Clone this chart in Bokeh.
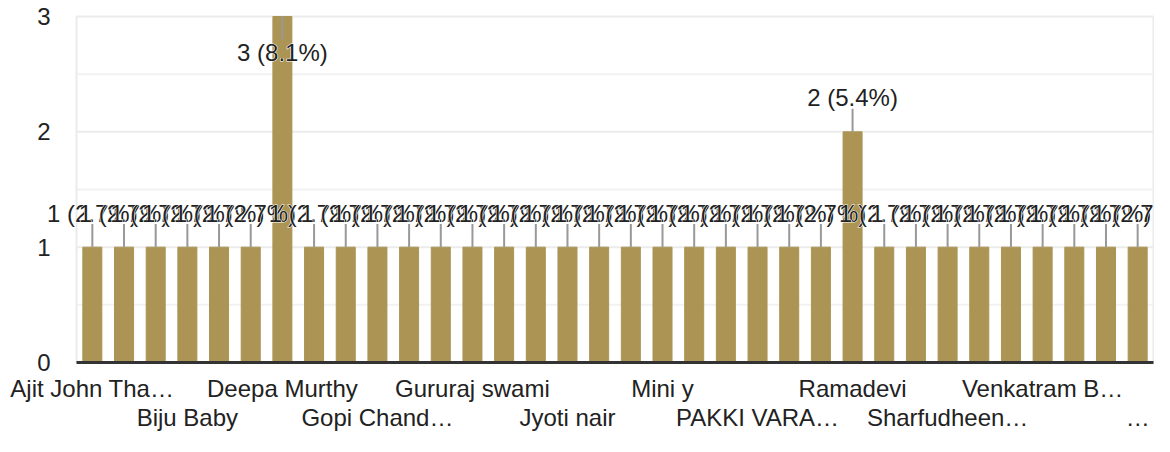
from bokeh.plotting import figure
from bokeh.models import ColumnDataSource, Label, LabelSet, FixedTicker, Range1d
from bokeh.core.properties import value
from bokeh.embed import file_html
from bokeh.resources import INLINE

# ---- data ----
names = [
    "Ajit John Thomas", "Anil Kumar", "Anitha R", "Biju Baby", "Bindu S",
    "Chandran K", "Deepa Murthy", "Divya Menon", "Geetha Rani", "Gopi Chandran",
    "Gowri Shankar", "Gururaj Rao", "Gururaj swami", "Hari Prasad", "Jayasree P",
    "Jyoti nair", "Kavitha M", "Lakshmi N", "Mini y", "Mohan Das",
    "Nandini K", "PAKKI VARAPRASAD", "Prakash R", "Radha Krishnan", "Ramadevi",
    "Rekha S", "Sajan Thomas", "Sharfudheen K", "Sreeja V", "Suresh Babu",
    "Venkatram Bhat", "Vijay Kumar", "Vinod P", "Vishnu Narayanan Namboothiri",
]
counts = [1, 1, 1, 1, 1, 1, 3, 1, 1, 1,
          1, 1, 1, 1, 1, 1, 1, 1, 1, 1,
          1, 1, 1, 1, 2, 1, 1, 1, 1, 1,
          1, 1, 1, 1]
shown_labels = ["Ajit John Tha…", "Biju Baby", "Deepa Murthy", "Gopi Chand…",
                "Gururaj swami", "Jyoti nair", "Mini y", "PAKKI VARA…",
                "Ramadevi", "Sharfudheen…", "Venkatram B…", "…"]
y_ticks = [0, 1, 2, 3]
y_minor = [0.5, 1.5, 2.5]

# ---- layout (pixels) ----
W, H = 1154, 436
AXIS_H = 62                  # room for the two rows of category labels
PLOT_L, PLOT_R = 76, 1153    # chart area, left/right edges
TOP_PX, BASE_PX = 16, 362    # y of top value and of baseline
FONT = "Liberation Sans"
BAR = "#ab9454"
TXT = "#222222"
GRID = "#ebebeb"

# ---- derived ----
n = len(names)
pos = list(range(n))            # category slots on the x scale
total = sum(counts)
ymax = max(counts)

slot = (PLOT_R - PLOT_L) / n
x_start = -0.5 - PLOT_L / slot
x_end = n - 0.5 + (W - PLOT_R) / slot
frame_h = H - AXIS_H
scale = (BASE_PX - TOP_PX) / ymax
y_start = -(frame_h - BASE_PX) / scale
y_end = ymax + TOP_PX / scale

stem_len = 0.2
stem_end = [c - stem_len if c >= ymax else c + stem_len for c in counts]
yoff = [-13 if c >= ymax else 11 for c in counts]
labels = [f"{c} ({c / total * 100:.1f}%)" for c in counts]

src = ColumnDataSource(dict(x=pos, name=names, count=counts, stem=stem_end))

p = figure(x_range=Range1d(x_start, x_end), y_range=Range1d(y_start, y_end),
           width=W, height=H, output_backend="svg", toolbar_location=None,
           min_border_left=0, min_border_top=0, min_border_right=0,
           min_border_bottom=AXIS_H)
p.background_fill_color = "white"
p.border_fill_color = "white"
p.outline_line_color = None
p.xgrid.visible = False
p.ygrid.visible = False
p.yaxis.visible = False

left, right = -0.5, n - 0.5
# minor and major horizontal grid lines across the chart area
p.segment(x0=[left] * len(y_minor), y0=y_minor, x1=[right] * len(y_minor),
          y1=y_minor, line_color="#f2f2f2", line_width=2)
p.segment(x0=[left] * len(y_ticks), y0=y_ticks, x1=[right] * len(y_ticks),
          y1=y_ticks, line_color=GRID, line_width=2)
# left / right edges of the chart area
p.segment(x0=[left, right], y0=[0, 0], x1=[left, right], y1=[ymax, ymax],
          line_color=GRID, line_width=2)

p.vbar(x="x", top="count", bottom=0, width=0.6, color=BAR, source=src)
p.segment(x0="x", y0="count", x1="x", y1="stem", line_color="#999999",
          line_width=2, source=src)
# baseline
p.segment(x0=[left], y0=[0], x1=[right], y1=[0], line_color="#333333",
          line_width=3)

# y tick labels
ysrc = ColumnDataSource(dict(x=[left] * len(y_ticks), y=y_ticks,
                             t=[str(t) for t in y_ticks]))
p.add_layout(LabelSet(x="x", y="y", text="t", x_offset=-26, text_align="right",
                      text_baseline="middle", text_font=value(FONT),
                      text_font_size="24px", text_color=TXT, source=ysrc))

# value annotations: each one drawn as white halo, then dark text
for i in range(n):
    common = dict(x=pos[i], y=stem_end[i], text=labels[i], y_offset=yoff[i],
                  text_align="center", text_baseline="middle",
                  text_font=FONT, text_font_size="24px")
    p.add_layout(Label(text_color="white", text_outline_color="white",
                       **common))
    p.add_layout(Label(text_color=TXT, **common))

# x tick labels: every third category, staggered on two rows
tick_pos = pos[::3]
overrides = {}
for k, (tp, lab) in enumerate(zip(tick_pos, shown_labels)):
    overrides[tp] = lab if k % 2 == 0 else "\n" + lab
p.xaxis.ticker = FixedTicker(ticks=tick_pos, minor_ticks=[])
p.xaxis.major_label_overrides = overrides
p.xaxis.axis_line_color = None
p.xaxis.major_tick_line_color = None
p.xaxis.minor_tick_line_color = None
p.xaxis.major_tick_out = 0
p.xaxis.minor_tick_out = 0
p.xaxis.major_label_standoff = 0
p.xaxis.major_label_text_font = FONT
p.xaxis.major_label_text_font_size = "24px"
p.xaxis.major_label_text_color = TXT
p.xaxis.major_label_text_line_height = 1.1
p.xaxis.major_label_orientation = "horizontal"

open("out.html", "w").write(file_html(p, INLINE))
